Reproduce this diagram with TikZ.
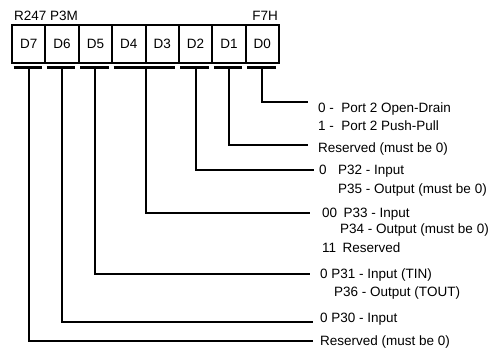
\documentclass[tikz,border=0pt]{standalone}
\usepackage{fontspec}
\setmainfont{Liberation Sans}
\usetikzlibrary{positioning, calc}
\tikzset{
  bit/.style   = {draw, line width=2pt, minimum width=33.375pt, minimum height=38pt,
                  inner sep=0pt, outer sep=0pt, font=\fontsize{13.5}{16}\selectfont},
  tbar/.style  = {line width=2.2pt},
  wire/.style  = {line width=2pt},
  lbl/.style   = {anchor=west, inner sep=0pt, text height=9.7pt, text depth=0pt,
                  font=\fontsize{13.5}{16}\selectfont},
}

\begin{document}
\begin{tikzpicture}[x=1pt, y=-1pt]
  \useasboundingbox (0,0) rectangle (503,350);
  \node[lbl] (reg) at (14,15.5) {R247 P3M};
  \node[lbl, anchor=east] (addr) at (278,15.5) {F7H};

  \node[bit] (d7) at (28.69,44) {D7};
  \node[bit, right=0pt of d7] (d6) {D6};
  \node[bit, right=0pt of d6] (d5) {D5};
  \node[bit, right=0pt of d5] (d4) {D4};
  \node[bit, right=0pt of d4] (d3) {D3};
  \node[bit, right=0pt of d3] (d2) {D2};
  \node[bit, right=0pt of d2] (d1) {D1};
  \node[bit, right=0pt of d1] (d0) {D0};

  \foreach \b in {d7,d6,d5,d2,d1,d0} {
    \draw[tbar] ($(\b.south west)+(1.5,4.5)$) -- ($(\b.south east)+(-3.5,4.5)$);
    \coordinate (t\b) at ($(\b.south)+(0,4.5)$);
  }
  \draw[tbar] ($(d4.south west)+(1.5,4.5)$) -- ($(d3.south east)+(-3.5,4.5)$);
  \coordinate (td43) at ($(d4.south east)+(0,4.5)$);

  \coordinate (e0) at (308,102);
  \coordinate (e1) at (308,145);
  \coordinate (e2) at (314,170);
  \coordinate (e43) at (310,213);
  \coordinate (e5) at (310,274);
  \coordinate (e6) at (313,322);
  \coordinate (e7) at (313,341);

  \node[lbl] (l0a) at (318,108) {0 -\ \ Port 2 Open-Drain};
  \node[lbl] (l0b) at (318,126) {1 -\ \ Port 2 Push-Pull};
  \node[lbl] (l1) at (318,148) {Reserved (must be 0)};
  \node[lbl] (l2a) at (319,170) {0\hspace{11.5pt}P32 - Input};
  \node[lbl] (l2b) at (338,189) {P35 - Output (must be 0)};
  \node[lbl] (l43a) at (322,213) {00\hspace{6.5pt}P33 - Input};
  \node[lbl] (l43b) at (340,229) {P34 - Output (must be 0)};
  \node[lbl] (l43c) at (322,248) {11\hspace{6.5pt}Reserved};
  \node[lbl] (l5a) at (320,274) {0 P31 - Input (TIN)};
  \node[lbl] (l5b) at (334,292) {P36 - Output (TOUT)};
  \node[lbl] (l6) at (320,318) {0 P30 - Input};
  \node[lbl] (l7) at (320,341) {Reserved (must be 0)};

  \draw[wire] (td0) |- (e0);
  \draw[wire] (td1) |- (e1);
  \draw[wire] (td2) |- (e2);
  \draw[wire] (td43) |- (e43);
  \draw[wire] (td5) |- (e5);
  \draw[wire] (td6) |- (e6);
  \draw[wire] (td7) |- (e7);
\end{tikzpicture}
\end{document}
